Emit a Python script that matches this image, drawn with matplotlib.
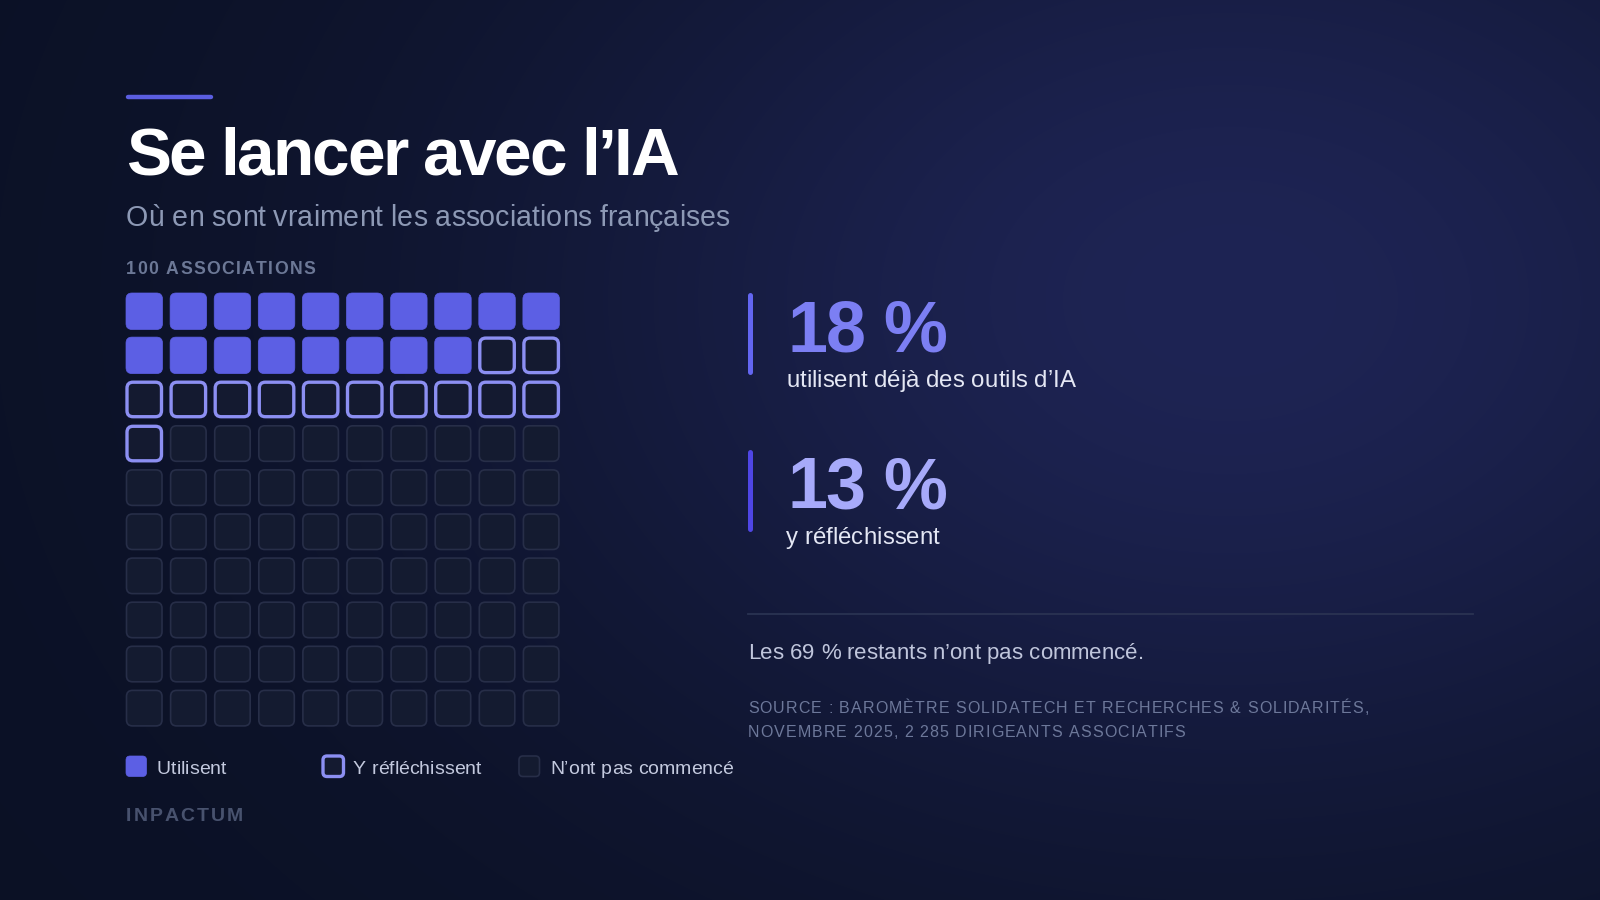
#!/usr/bin/env python3
import numpy as np
import matplotlib
matplotlib.use("Agg")
import matplotlib.pyplot as plt
from matplotlib.patches import FancyBboxPatch
from matplotlib.font_manager import FontProperties, findfont
from matplotlib.ft2font import FT2Font

# data
categories = ["Utilisent", "Y réfléchissent", "N’ont pas commencé"]
counts = [18, 13, 69]
stat_values = [18, 13]
stat_labels = ["utilisent déjà des outils d’IA", "y réfléchissent"]
rest_value = 69
title = "Se lancer avec l’IA"
subtitle = "Où en sont vraiment les associations françaises"
grid_label = "100 ASSOCIATIONS"
source_lines = ["SOURCE : BAROMÈTRE SOLIDATECH ET RECHERCHES & SOLIDARITÉS,",
                "NOVEMBRE 2025, 2 285 DIRIGEANTS ASSOCIATIFS"]
brand = "INPACTUM"

FAMILY = "Liberation Sans"
W, H = 1600, 900

fig = plt.figure(figsize=(16, 9), dpi=100)
ax = fig.add_axes([0, 0, 1, 1])
ax.set_xlim(0, W)
ax.set_ylim(H, 0)
ax.axis("off")

# background: dark navy with a soft glow on the right
yy, xx = np.mgrid[0:H, 0:W]
d2 = ((xx - 1230) / 720.0) ** 2 + ((yy - 300) / 520.0) ** 2
glow = np.exp(-d2)
base = np.array([11, 17, 37]) / 255.0
glowc = np.array([30, 36, 84]) / 255.0
bg = base[None, None, :] + (glowc - base)[None, None, :] * glow[..., None]
ax.imshow(bg, extent=(0, W, H, 0), zorder=0, aspect="auto")


def tracked(x, y, s, px, track=0.0, weight="normal", color="white", va="baseline"):
    # draws text char by char so letter spacing can be set
    prop = FontProperties(family=FAMILY, weight=weight)
    f = FT2Font(findfont(prop))
    f.set_size(px * 0.72, 100)
    for ch in s:
        ax.text(x, y, ch, fontproperties=prop, fontsize=px * 0.72, color=color,
                ha="left", va=va, zorder=5)
        g = f.load_char(ord(ch))
        x += g.linearHoriAdvance / 65536.0 + track
    return x


def rbox(x, y, size, r, fc, ec, lw):
    p = FancyBboxPatch((x, y), size, size, boxstyle=f"round,pad=0,rounding_size={r}",
                       fc=fc, ec=ec, lw=lw, zorder=3)
    ax.add_patch(p)


# header
ax.plot([128, 211], [97, 97], color="#5b5ee0", lw=3.2, solid_capstyle="round", zorder=4)
tracked(126, 175, title, 67.5, track=-2.2, weight="bold", color="#ffffff")
tracked(126, 225.5, subtitle, 28.5, track=0, color="#8d99b5")
tracked(126, 274.3, grid_label, 17.6, track=1.4, weight="bold", color="#6c7896")

# waffle
FILL = "#5c5fe4"
OUTL = "#8c8ff2"
x0, y0, step, sq = 126, 293, 44.1, 36.5
kinds = np.repeat(np.arange(len(counts)), counts)
for i, k in enumerate(kinds):
    cx = x0 + (i % 10) * step
    cy = y0 + (i // 10) * step
    if k == 0:
        rbox(cx, cy, sq, 6, FILL, FILL, 0.5)
    elif k == 1:
        rbox(cx + 1, cy + 1, sq - 2, 6, "#141a30", OUTL, 2.4)
    else:
        rbox(cx + 0.5, cy + 0.5, sq - 1, 6, "#141b30", "#272e48", 1.2)

# legend
leg_x = [126, 322, 519]
leg_y = 756
for j, name in enumerate(categories):
    if j == 0:
        rbox(leg_x[j], leg_y, 20.5, 4, FILL, FILL, 0.5)
    elif j == 1:
        rbox(leg_x[j] + 1, leg_y, 20.5, 4, "#141a30", OUTL, 2.4)
    else:
        rbox(leg_x[j], leg_y, 20.5, 4, "#141b30", "#272e48", 1.2)
    tracked(leg_x[j] + 31, 773.5, name, 19.5, color="#c3c9de")

tracked(126, 820.7, brand, 19.5, track=2.0, weight="bold", color="#48526e")

# stats on the right
bar_cols = ["#6366f1", "#4f46e5"]
num_cols = ["#7c7ff3", "#a7aafa"]
tops = [293, 450]
for j, v in enumerate(stat_values):
    t = tops[j]
    ax.plot([750, 750], [t + 2, t + 79], color=bar_cols[j], lw=3.6,
            solid_capstyle="round", zorder=4)
    tracked(787, t + 58.5, f"{v} %", 72, track=-1.3, weight="bold", color=num_cols[j])
    tracked(786, t + 94, stat_labels[j], 24, track=0, color="#e4e7f4")

ax.plot([748, 1473], [614, 614], color="#2a3352", lw=1.3, zorder=4)
tracked(748, 659, f"Les {rest_value} % restants n’ont pas commencé.", 22.3,
        color="#c0c6dc")
for k, line in enumerate(source_lines):
    tracked(748, 713 + k * 24, line, 16, track=1.05, color="#6d789a")

fig.savefig("out.png", dpi=100)
